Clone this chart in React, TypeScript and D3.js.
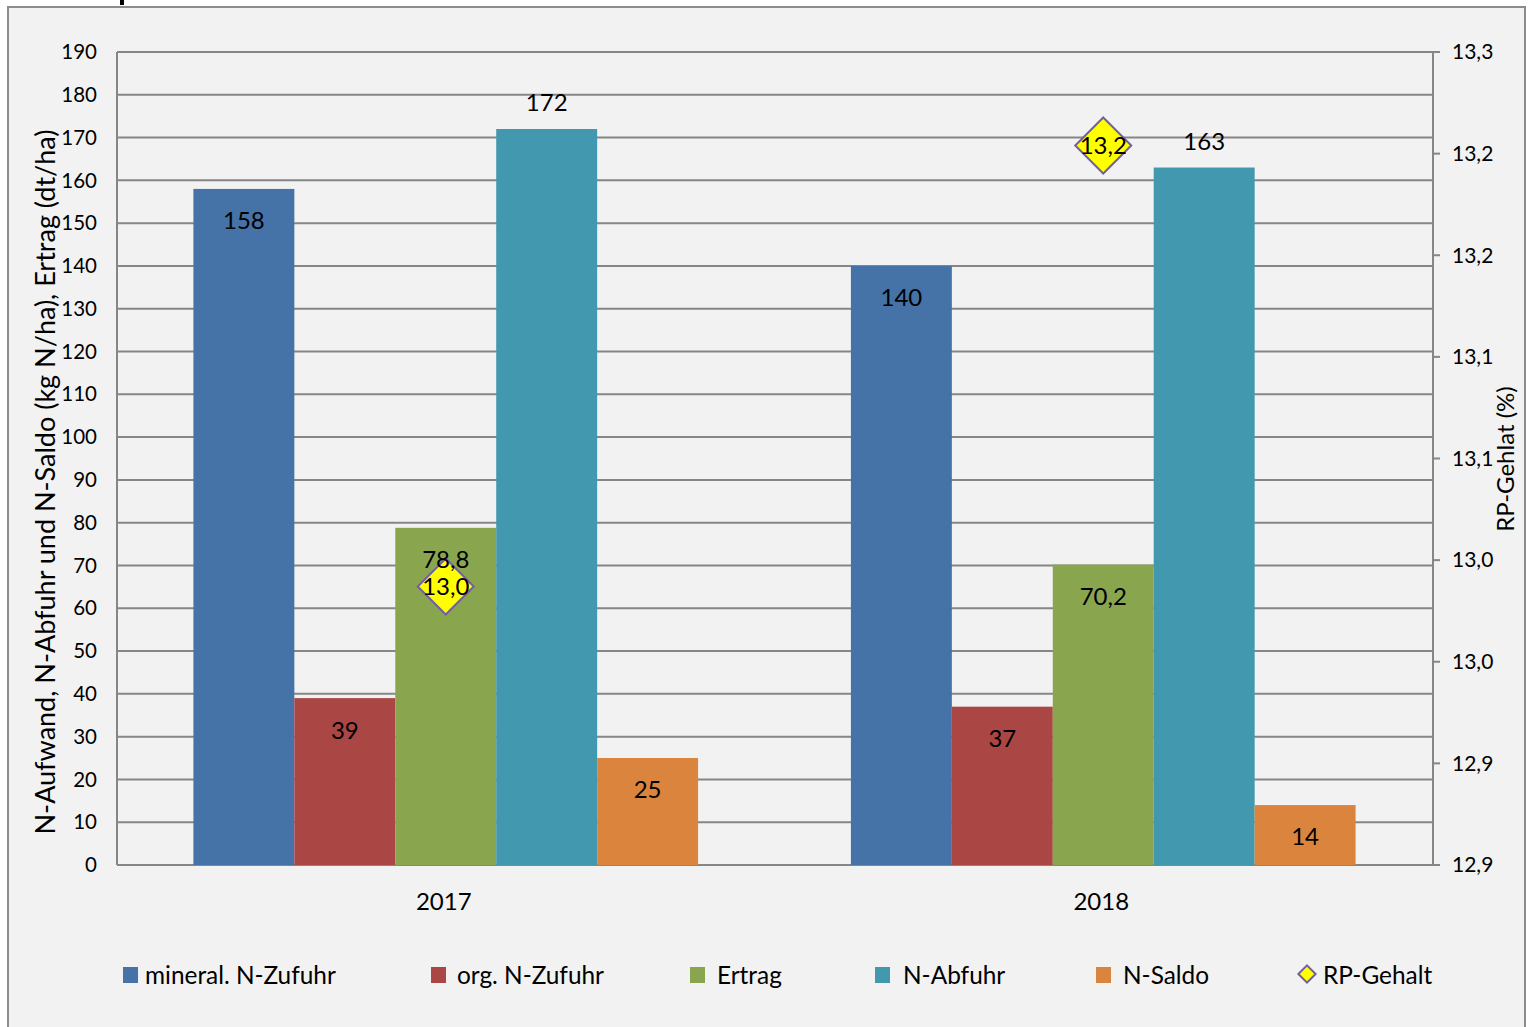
import React from "react";
import * as d3 from "d3";

const years = ["2017", "2018"];
const seriesNames = ["mineral. N-Zufuhr", "org. N-Zufuhr", "Ertrag", "N-Abfuhr", "N-Saldo"];
const seriesColors = ["#4572a7", "#aa4643", "#89a54e", "#4198af", "#db843d"];
const mineralN = [158, 140];
const orgN = [39, 37];
const ertrag = [78.8, 70.2];
const nAbfuhr = [172, 163];
const nSaldo = [25, 14];
const rpGehalt = [13.037, 13.254];
const leftTicks = [0, 10, 20, 30, 40, 50, 60, 70, 80, 90, 100, 110, 120, 130, 140, 150, 160, 170, 180, 190];
const rightTicks = [12.9, 12.95, 13.0, 13.05, 13.1, 13.15, 13.2, 13.25, 13.3];

const W = 1529;
const H = 1027;
const FONT = "Lato, 'Open Sans', sans-serif";

const trunc1 = (v: number) => (Math.floor(v * 10 + 1e-6) / 10).toFixed(1).replace(".", ",");
const fmtVal = (v: number) => (Number.isInteger(v) ? String(v) : v.toFixed(1).replace(".", ","));

export default function App() {
  const left = 117, right = 1433, top = 52, bottom = 865;
  const y = d3.scaleLinear().domain([0, 190]).range([bottom, top]);
  const y2 = d3.scaleLinear().domain([12.9, 13.3]).range([bottom, top]);
  const x0 = d3.scaleBand<string>().domain(years).range([left, right - 1]).padding(0);
  const x1 = d3
    .scaleBand<string>()
    .domain(seriesNames)
    .range([0, x0.bandwidth()])
    .paddingInner(0)
    .paddingOuter(0.757);
  const data = [mineralN, orgN, ertrag, nAbfuhr, nSaldo];
  const grid = "#868686";
  const diamond = d3.symbol().type(d3.symbolDiamond2).size(2000);
  const diamondSmall = d3.symbol().type(d3.symbolDiamond2).size(190);

  const legendItems = [
    { x: 123, tx: 145 },
    { x: 431, tx: 457 },
    { x: 690, tx: 717 },
    { x: 875, tx: 903 },
    { x: 1096, tx: 1123 },
  ];

  return (
    <svg
      width={W}
      height={H}
      style={{ position: "absolute", left: 0, top: 0, fontFamily: FONT }}
    >
      <rect x={0} y={0} width={W} height={H} fill="#ffffff" />
      <rect x={8} y={7} width={1517} height={1030} fill="#f2f2f2" stroke="#8c8c8c" strokeWidth={2} />
      <rect x={120} y={0} width={4} height={5} fill="#000" />

      {/* gridlines */}
      {leftTicks.map((t) => (
        <line key={"g" + t} x1={left} x2={right} y1={y(t)} y2={y(t)} stroke={grid} strokeWidth={2} />
      ))}
      {/* axes */}
      <line x1={left} x2={left} y1={top} y2={bottom} stroke={grid} strokeWidth={2} />
      <line x1={right} x2={right} y1={top} y2={bottom} stroke={grid} strokeWidth={2} />
      {rightTicks.map((t, i) => (
        <g key={"r" + i}>
          <line x1={right} x2={right + 7} y1={y2(t)} y2={y2(t)} stroke={grid} strokeWidth={2} />
          <text x={1452} y={y2(t)} dy="0.35em" fontSize={21} fill="#000">
            {trunc1(t)}
          </text>
        </g>
      ))}
      {leftTicks.map((t) => (
        <text key={"l" + t} x={97} y={y(t)} dy="0.35em" fontSize={20.5} textAnchor="end" fill="#000">
          {t}
        </text>
      ))}

      {/* bars */}
      {years.map((yr, yi) => (
        <g key={yr} transform={`translate(${x0(yr)},0)`}>
          {seriesNames.map((s, si) => {
            const v = data[si][yi];
            return (
              <rect
                key={s}
                x={x1(s)!}
                y={y(v)}
                width={x1.bandwidth()}
                height={bottom - y(v)}
                fill={seriesColors[si]}
              />
            );
          })}
        </g>
      ))}

      {/* RP-Gehalt markers */}
      {years.map((yr, yi) => {
        const cx = x0(yr)! + x0.bandwidth() / 2;
        const cy = y2(rpGehalt[yi]);
        return (
          <path
            key={"rpm" + yr}
            d={diamond()!}
            transform={`translate(${cx},${cy})`}
            fill="#ffff00"
            stroke="#7060a0"
            strokeWidth={2}
          />
        );
      })}

      {/* bar labels */}
      {years.map((yr, yi) => (
        <g key={"lbl" + yr} transform={`translate(${x0(yr)},0)`}>
          {seriesNames.map((s, si) => {
            const v = data[si][yi];
            const bx = x1(s)!;
            const bw = x1.bandwidth();
            const outside = si === 3;
            return (
              <text
                key={s}
                x={bx + bw / 2}
                y={outside ? y(v) - 26 : y(v) + 32}
                dy="0.35em"
                textAnchor="middle"
                fontSize={24}
                fill="#000"
              >
                {fmtVal(v)}
              </text>
            );
          })}
        </g>
      ))}

      {/* RP-Gehalt labels */}
      {years.map((yr, yi) => {
        const cx = x0(yr)! + x0.bandwidth() / 2;
        const cy = y2(rpGehalt[yi]);
        return (
          <text key={"rpl" + yr} x={cx} y={cy} dy="0.35em" textAnchor="middle" fontSize={24} fill="#000">
            {trunc1(rpGehalt[yi])}
          </text>
        );
      })}

      {/* x labels */}
      {years.map((yr) => (
        <text
          key={"x" + yr}
          x={x0(yr)! + x0.bandwidth() / 2 - 2}
          y={902}
          dy="0.35em"
          textAnchor="middle"
          fontSize={24}
          fill="#000"
        >
          {yr}
        </text>
      ))}

      {/* axis titles */}
      <text
        transform="translate(46,482) rotate(-90)"
        textAnchor="middle"
        dy="0.35em"
        fontSize={27}
        fill="#000"
      >
        N-Aufwand, N-Abfuhr und N-Saldo (kg N/ha), Ertrag (dt/ha)
      </text>
      <text
        transform="translate(1506,459) rotate(-90)"
        textAnchor="middle"
        dy="0.35em"
        fontSize={24}
        fill="#000"
      >
        RP-Gehlat (%)
      </text>

      {/* legend */}
      {seriesNames.map((s, i) => (
        <g key={"lg" + s}>
          <rect x={legendItems[i].x} y={967} width={15} height={16} fill={seriesColors[i]} />
          <text x={legendItems[i].tx} y={975} dy="0.35em" fontSize={24.4} fill="#000">
            {s}
          </text>
        </g>
      ))}
      <path
        d={diamondSmall()!}
        transform="translate(1307,974)"
        fill="#ffff00"
        stroke="#7060a0"
        strokeWidth={2}
      />
      <text x={1323} y={975} dy="0.35em" fontSize={24.4} fill="#000">
        RP-Gehalt
      </text>
    </svg>
  );
}
